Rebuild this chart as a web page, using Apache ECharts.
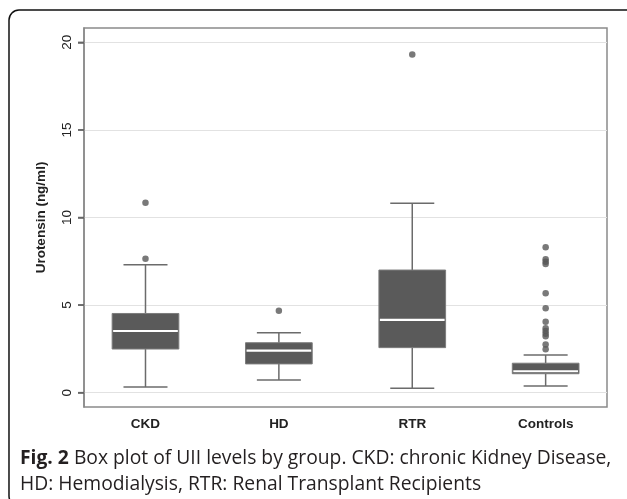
<!DOCTYPE html>
<html>
<head>
<meta charset="utf-8">
<script src="https://cdn.jsdelivr.net/npm/echarts@6/dist/echarts.min.js"></script>
<style>
  html, body { margin: 0; padding: 0; background: #fff; }
  #chart { width: 627px; height: 499px; }
</style>
</head>
<body>
<div id="chart"></div>
<script>
// 组别
var groups = ['CKD', 'HD', 'RTR', 'Controls'];
// 箱线图数值: [min, Q1, median, Q3, max]
var boxValues = [
    [0.32, 2.49, 3.52, 4.52, 7.30],
    [0.72, 1.64, 2.40, 2.85, 3.42],
    [0.25, 2.57, 4.15, 7.00, 10.81],
    [0.38, 1.08, 1.22, 1.68, 2.15]
];
// 离群点: [组序号, 数值]
var outliers = [
    [1, 10.84], [1, 7.65],
    [2, 4.68],
    [3, 19.3],
    [4, 8.30], [4, 7.62], [4, 7.48], [4, 7.35], [4, 5.67], [4, 4.82],
    [4, 4.05], [4, 3.68], [4, 3.52], [4, 3.36], [4, 3.22], [4, 2.75], [4, 2.48]
];
var yTicks = [0, 5, 10, 15, 20];
var xTicks = [1, 2, 3, 4];
var xMin = 0.539, xMax = 4.46;

var chart = echarts.init(document.getElementById('chart'));

var boxData = boxValues.map(function (v, i) {
    return [i + 1].concat(v);
});

// 画箱体
function renderBox(params, api) {
    var x = api.value(0);
    var pMin = api.coord([x, api.value(1)]);
    var pQ1 = api.coord([x, api.value(2)]);
    var pMed = api.coord([x, api.value(3)]);
    var pQ3 = api.coord([x, api.value(4)]);
    var pMax = api.coord([x, api.value(5)]);
    var unit = api.size([1, 0])[0];
    var boxW = unit * 0.5;
    var capW = unit * 0.33;
    var cx = pMed[0];
    var lineStyle = { stroke: '#6b6b6b', lineWidth: 1.5 };
    return {
        type: 'group',
        children: [
            { type: 'line', shape: { x1: cx, y1: pMax[1], x2: cx, y2: pQ3[1] }, style: lineStyle },
            { type: 'line', shape: { x1: cx, y1: pQ1[1], x2: cx, y2: pMin[1] }, style: lineStyle },
            { type: 'line', shape: { x1: cx - capW / 2, y1: pMax[1], x2: cx + capW / 2, y2: pMax[1] }, style: lineStyle },
            { type: 'line', shape: { x1: cx - capW / 2, y1: pMin[1], x2: cx + capW / 2, y2: pMin[1] }, style: lineStyle },
            {
                type: 'rect',
                shape: { x: cx - boxW / 2, y: pQ3[1], width: boxW, height: pQ1[1] - pQ3[1] },
                style: { fill: '#5a5a5a', stroke: '#7c7c7c', lineWidth: 1 }
            },
            { type: 'line', shape: { x1: cx - boxW / 2 + 1, y1: pMed[1], x2: cx + boxW / 2 - 1, y2: pMed[1] }, style: { stroke: '#ffffff', lineWidth: 2.2 } }
        ]
    };
}

// y轴刻度线 (画在框外)
function renderTick(params, api) {
    var p = api.coord([api.value(0), api.value(1)]);
    return {
        type: 'line',
        shape: { x1: p[0] - 6, y1: p[1], x2: p[0], y2: p[1] },
        style: { stroke: '#666', lineWidth: 1.5 }
    };
}

var option = {
    backgroundColor: '#ffffff',
    animation: false,
    title: {
        left: 15,
        top: 441,
        text: '{b|Fig. 2} Box plot of UII levels by group. CKD: chronic Kidney Disease,\nHD: Hemodialysis, RTR: Renal Transplant Recipients',
        textStyle: {
            fontFamily: 'Open Sans',
            fontSize: 19.3,
            fontWeight: 'normal',
            color: '#231f20',
            lineHeight: 26,
            rich: {
                b: { fontFamily: 'Open Sans', fontSize: 19.3, fontWeight: 'bold', color: '#231f20', lineHeight: 26 }
            }
        }
    },
    graphic: [{
        type: 'rect',
        silent: true,
        shape: { x: 9, y: 10, width: 640, height: 496, r: 10 },
        style: { fill: 'none', stroke: '#111111', lineWidth: 1.5 }
    }],
    grid: {
        left: 84,
        right: 20,
        top: 28,
        bottom: 92,
        show: true,
        borderColor: '#8a8a8a',
        borderWidth: 1.5,
        backgroundColor: 'transparent'
    },
    xAxis: {
        type: 'value',
        min: xMin,
        max: xMax,
        axisLine: { show: false },
        axisTick: { show: false },
        splitLine: { show: false },
        axisLabel: {
            customValues: xTicks,
            margin: 10,
            fontFamily: 'Liberation Sans',
            fontSize: 13.5,
            fontWeight: 'bold',
            color: '#222',
            formatter: function (v) { return groups[Math.round(v) - 1] || ''; }
        }
    },
    yAxis: {
        type: 'value',
        min: -0.82,
        max: 20.82,
        name: 'Urotensin (ng/ml)',
        nameLocation: 'middle',
        nameGap: 36,
        nameTextStyle: { fontFamily: 'Liberation Sans', fontSize: 13.5, fontWeight: 'bold', color: '#222' },
        axisLine: { show: true, lineStyle: { color: '#8a8a8a', width: 1.5 } },
        axisTick: { show: true, inside: false, customValues: yTicks, length: 6, lineStyle: { color: '#666', width: 1.5 } },
        axisLabel: {
            customValues: yTicks,
            rotate: 90,
            margin: 10,
            fontFamily: 'Liberation Sans',
            fontSize: 13.5,
            color: '#222'
        },
        splitLine: { show: true, lineStyle: { color: '#e2e2e2', width: 1.2 } }
    },
    series: [
        {
            type: 'custom',
            renderItem: renderTick,
            data: yTicks.map(function (v) { return [xMin, v]; }),
            encode: { x: 0, y: 1 },
            clip: false,
            silent: true,
            z: 2
        },
        {
            type: 'custom',
            renderItem: renderBox,
            data: boxData,
            encode: { x: 0, y: [1, 2, 3, 4, 5] },
            z: 3
        },
        {
            type: 'scatter',
            data: outliers,
            symbol: 'circle',
            symbolSize: 6.5,
            itemStyle: { color: '#585858' },
            z: 4
        }
    ]
};

chart.setOption(option);
</script>
</body>
</html>
